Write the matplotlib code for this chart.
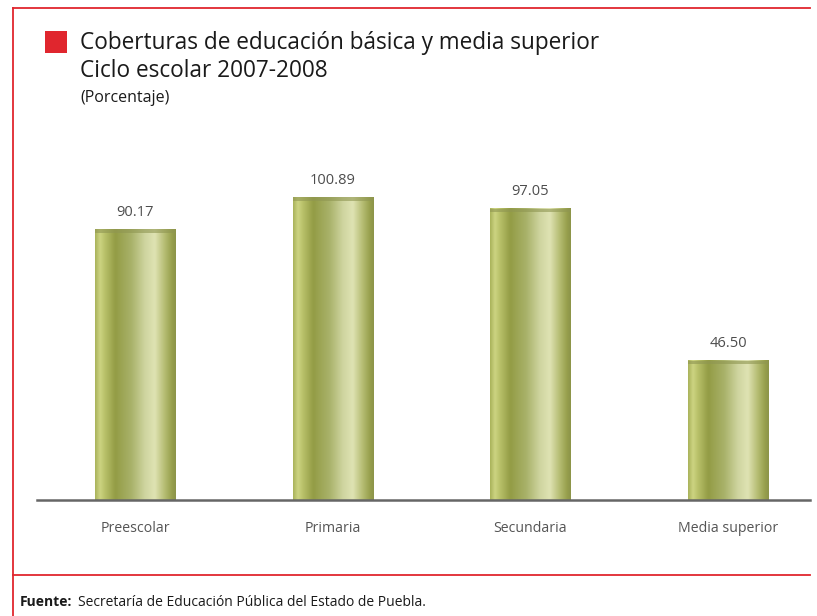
import numpy as np
import matplotlib
matplotlib.use("Agg")
import matplotlib.pyplot as plt
from matplotlib.colors import LinearSegmentedColormap
from matplotlib.lines import Line2D
from matplotlib.patches import Rectangle

categories = ["Preescolar", "Primaria", "Secundaria", "Media superior"]
values = [90.17, 100.89, 97.05, 46.50]
value_labels = ["90.17", "100.89", "97.05", "46.50"]

title_line1 = "Coberturas de educación básica y media superior"
title_line2 = "Ciclo escolar 2007-2008"
subtitle = "(Porcentaje)"
source_bold = "Fuente:"
source_text = "Secretaría de Educación Pública del Estado de Puebla."

plt.rcParams['font.family'] = ['Open Sans', 'DejaVu Sans']

W, H = 817, 616
fig = plt.figure(figsize=(W / 100, H / 100), dpi=100)
fig.patch.set_facecolor("white")

red = "#e0262e"

def px(x, y):
    return x / W, 1 - y / H

for (x0, y0, x1, y1) in [(13, 8, 810, 8), (13, 8, 13, 616), (13, 575, 810, 575)]:
    a, b = px(x0, y0)
    c, d = px(x1, y1)
    fig.add_artist(Line2D([a, c], [b, d], color=red, lw=1.3, transform=fig.transFigure))

sx, sy = px(45, 53)
fig.add_artist(Rectangle((sx, sy), 22 / W, 22 / H, color=red, transform=fig.transFigure, lw=0))

fig.text(80 / W, 1 - 43 / H, title_line1, fontsize=16.3, color="#1a1a1a", va="center", ha="left")
fig.text(80 / W, 1 - 71 / H, title_line2, fontsize=16.3, color="#1a1a1a", va="center", ha="left")
fig.text(80 / W, 1 - 98 / H, subtitle, fontsize=11.5, color="#1a1a1a", va="center", ha="left")

t = fig.text(20 / W, 1 - 602 / H, source_bold, fontsize=10, fontweight="bold", color="#1a1a1a", va="center", ha="left")
fig.canvas.draw()
bb = t.get_window_extent()
fig.text(bb.x1 / W + 6 / W, 1 - 602 / H, source_text, fontsize=10, color="#1a1a1a", va="center", ha="left")

left, right, top, base = 37, 810, 140, 500
ax = fig.add_axes([left / W, 1 - base / H, (right - left) / W, (base - top) / H])
ax.set_facecolor("none")
xlim = (-0.496, 3.415)
ylim = (0, 120)
width = 0.405

cmap = LinearSegmentedColormap.from_list("olive", [
    (0.00, "#a9b25a"),
    (0.06, "#cdd482"),
    (0.12, "#b9c16a"),
    (0.25, "#939c45"),
    (0.45, "#a9b26a"),
    (0.62, "#cfd5a0"),
    (0.74, "#dfe3b3"),
    (0.86, "#b6bd74"),
    (0.95, "#98a04d"),
    (1.00, "#8c9449"),
])
grad = np.linspace(0, 1, 256).reshape(1, -1)

xs = np.arange(len(categories))
for x, v, lab in zip(xs, values, value_labels):
    ax.imshow(grad, cmap=cmap, aspect="auto", extent=[x - width / 2, x + width / 2, 0, v],
              zorder=2, interpolation="bicubic")
    ax.add_patch(Rectangle((x - width / 2, v - 1.2), width, 1.2, color="#8f9652", alpha=0.6, lw=0, zorder=3))
    ax.annotate(lab, (x, v), xytext=(0, 7), textcoords="offset points", ha="center", va="bottom",
                fontsize=10.5, color="#4d4d4d")

ax.set_xlim(*xlim)
ax.set_ylim(*ylim)
ax.set_xticks(xs)
ax.set_xticklabels(categories, fontsize=10.2, color="#555555")
ax.tick_params(axis="x", length=0, pad=15)
ax.set_yticks([])
for s in ["top", "left", "right"]:
    ax.spines[s].set_visible(False)
ax.spines["bottom"].set_color("#666666")
ax.spines["bottom"].set_linewidth(1.8)

fig.savefig("out.png", dpi=100)
